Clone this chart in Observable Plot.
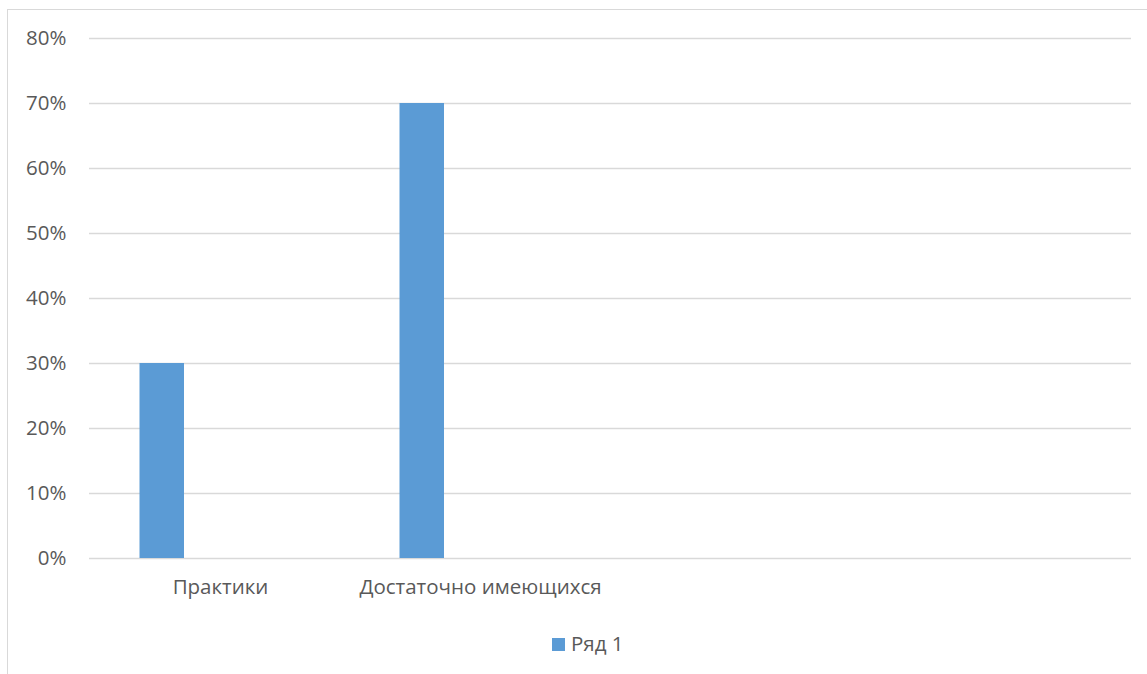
<!DOCTYPE html>
<html>
<head>
<meta charset="utf-8">
<script src="https://cdn.jsdelivr.net/npm/d3@7"></script>
<script src="https://cdn.jsdelivr.net/npm/@observablehq/plot@0.6"></script>
<style>
  html, body { margin: 0; padding: 0; background: #fff; }
  #wrap { position: relative; width: 1147px; height: 674px; overflow: hidden; font-family: "Open Sans", Lato, sans-serif; }
  #frame { position: absolute; left: 7px; top: 9px; right: -2px; bottom: -2px; border-left: 1.5px solid #d9d9d9; border-top: 1.5px solid #d9d9d9; }
  #chart { position: absolute; left: 0; top: 0; }
  #legend { position: absolute; left: 552px; top: 629px; font-size: 20.5px; line-height: 28px; color: #595959; white-space: nowrap; }
  #legend .sw { display: inline-block; width: 13px; height: 13px; background: #5b9bd5; margin-right: 6px; vertical-align: 0px; }
</style>
</head>
<body>
<div id="wrap">
  <div id="frame"></div>
  <div id="chart"></div>
  <div id="legend"></div>
</div>
<script>
const categories = ["Практики", "Достаточно имеющихся", "", " "];
const values = [0.30, 0.70, null, null];
const seriesName = "Ряд 1";
const yTicks = [0, 0.1, 0.2, 0.3, 0.4, 0.5, 0.6, 0.7, 0.8];
const barColor = "#5b9bd5";

const data = categories.map((c, i) => ({category: c, value: values[i]})).filter(d => d.value != null);

const chart = Plot.plot({
  width: 1147,
  height: 600,
  marginLeft: 89,
  marginRight: 16,
  marginTop: 38,
  marginBottom: 42,
  style: { fontFamily: "'Open Sans', Lato, sans-serif", fontSize: "20.5px", color: "#595959", background: "transparent" },
  x: { domain: categories, padding: 0, label: null },
  y: { domain: [0, 0.8], label: null },
  marks: [
    Plot.gridY(yTicks, { stroke: "#d9d9d9", strokeOpacity: 1, strokeWidth: 1.5 }),
    Plot.barY(data, { x: "category", y: "value", fill: barColor, insetLeft: 49.5, insetRight: 166 }),
    Plot.axisY(yTicks, { tickSize: 0, tickPadding: 23, tickFormat: d3.format(".0%"), label: null, fill: "#595959", fontSize: 20.5 }),
    Plot.axisX({ tickSize: 0, tickPadding: 21, label: null, fill: "#595959", fontSize: 20.5 })
  ]
});
document.getElementById("chart").appendChild(chart);

const lg = document.getElementById("legend");
const sw = document.createElement("span");
sw.className = "sw";
lg.appendChild(sw);
lg.appendChild(document.createTextNode(seriesName));
</script>
</body>
</html>
